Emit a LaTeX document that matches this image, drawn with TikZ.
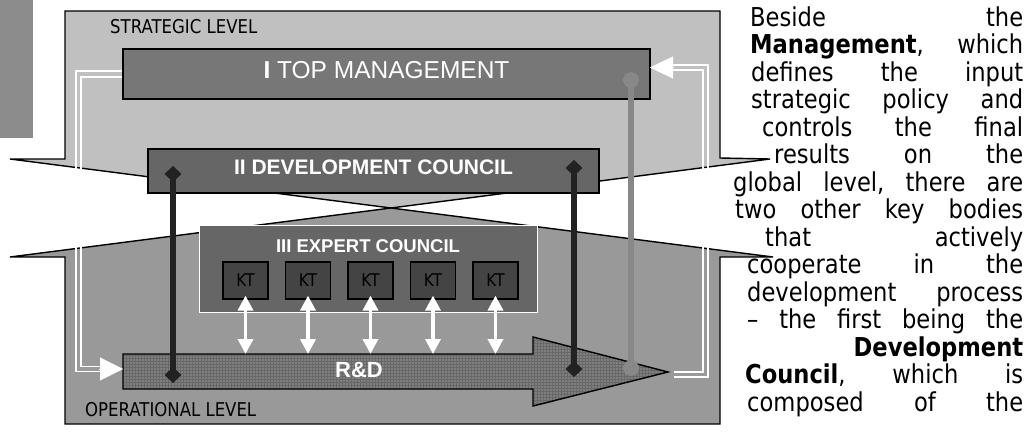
\documentclass[tikz,border=0pt]{standalone}
\usepackage{fontspec}
\setmainfont{DejaVu Sans}[FakeStretch=0.87]
\newfontfamily\diagfont{Liberation Sans}
\usetikzlibrary{calc,arrows.meta,patterns}

\definecolor{lvStrip}{HTML}{8C8C8C}
\definecolor{lvStrat}{HTML}{C0C0C0}
\definecolor{lvOper}{HTML}{999999}
\definecolor{lvTop}{HTML}{777777}
\definecolor{lvCouncil}{HTML}{666666}
\definecolor{lvTeam}{HTML}{444444}
\definecolor{lvRD}{HTML}{7F7F7F}
\definecolor{lvRDgrid}{HTML}{686868}
\definecolor{lvDark}{HTML}{222222}
\definecolor{lvLink}{HTML}{888888}

\begin{document}
\begin{tikzpicture}[x=1pt, y=-1pt,
    levelshape/.style={draw=black, line width=1.4pt},
    council/.style={draw=black, line width=1.2pt, fill=lvCouncil, text=white, inner sep=0pt},
    team/.style={draw=black, line width=1.2pt, fill=lvTeam, minimum width=45pt, minimum height=37pt,
      font=\fontsize{17.5}{17.5}\selectfont, inner sep=0pt},
    lvlabel/.style={anchor=base west, inner sep=0pt, font=\fontsize{19}{19}\selectfont},
    linkdown/.style={lvDark, line width=6pt, {Diamond[length=16pt,width=17pt]}-{Diamond[length=16pt,width=17pt]}},
    feedback/.style={white, line width=1.5pt},
    updown/.style={white, line width=3.5pt, {Triangle[length=15pt,width=15pt]}-{Triangle[length=15pt,width=15pt]}},
    paraline/.style={anchor=base west, inner sep=0pt, font=\fontsize{26}{26}\selectfont}
  ]
  \useasboundingbox (0,0) rectangle (1029,439);

  % Strip and the two levels
  \fill[lvStrip] (0,0) rectangle (33,138);
  \coordinate (cross) at (391,208);
  \draw[levelshape, fill=lvStrat] (10,159) -- (65,159) -- (65,11) -- (720,11) -- (720,158) -- (770,159) -- (cross) -- cycle;
  \draw[levelshape, fill=lvOper] (10,257) -- (65,257) -- (65,424) -- (720,424) -- (720,257) -- (773,257) -- (cross) -- cycle;
  \node[lvlabel] (strat) at (110,34) {STRATEGIC LEVEL};
  \node[lvlabel] (oper) at (85,416) {OPERATIONAL LEVEL};

  % Bodies
  \node[council, fill=lvTop, font=\diagfont\fontsize{24.5}{24.5}\selectfont,
    minimum width=527pt, minimum height=50pt, text depth=8pt] (tm) at (386.5,74) {\textbf{I} TOP MANAGEMENT};
  \node[council, font=\diagfont\bfseries\fontsize{21}{21}\selectfont,
    minimum width=451pt, minimum height=44pt, text depth=8pt] (dc) at (373.5,171) {II DEVELOPMENT COUNCIL};
  \node[council, draw=white, line width=1pt, minimum width=338pt, minimum height=87pt] (ec) at (368,268.5) {};
  \node[text=white, inner sep=0pt, font=\diagfont\bfseries\fontsize{18.5}{18.5}\selectfont] (ect) at (368,246) {III EXPERT COUNCIL};
  \foreach \i in {1,...,5}
    \node[team] (kt\i) at ({245.5+62.5*(\i-1)},280.5) {KT};

  % R&D arrow
  \draw[levelshape, preaction={fill=lvRD}, pattern=grid, pattern color=lvRDgrid]
    (123,354) -- (533,354) -- (533,337) -- (668,372) -- (533,406) -- (533,389) -- (123,389) -- cycle;
  \coordinate (rdw) at (123,369);
  \coordinate (rdtip) at (668,372);
  \coordinate (rdtop) at (123,354);
  \node[text=white, inner sep=0pt, font=\diagfont\bfseries\fontsize{22}{22}\selectfont] (rd) at (359,370) {R\&D};

  % Expert teams <-> R&D
  \foreach \i in {1,...,5}
    \draw[updown] ([yshift=4pt]kt\i.south) -- (kt\i.south |- rdtop);

  % Council links
  \coordinate (dcL) at (173,166);
  \coordinate (rdL) at (173,383);
  \coordinate (dcR) at (574,160);
  \coordinate (rdR) at (574,377);
  \draw[linkdown] (dcL) -- (rdL);
  \draw[linkdown] (dcR) -- (rdR);

  % Management link
  \coordinate (tmG) at (631,72);
  \coordinate (rdG) at (631,376);
  \draw[lvLink, line width=5.5pt, {Circle[length=16pt]}-{Circle[length=16pt]}] (tmG) -- (rdG);

  % Feedback loops
  \draw[feedback] ($(tm.west)+(0,-3)$) -| (76,371.5) -- (100,371.5);
  \draw[feedback] ($(tm.west)+(0,3)$) -| (81,366.5) -- (100,366.5);
  \draw[white, line width=0.1pt, -{Triangle[length=23pt,width=23pt]}] (99,369) -- (rdw);
  \coordinate (tmE) at (650,67.5);
  \draw[feedback] ($(rdtip)+(6,0)$) -| (703,70) -- (673,70);
  \draw[feedback] ($(rdtip)+(6,5)$) -| (708,65) -- (673,65);
  \draw[white, line width=0.1pt, -{Triangle[length=23pt,width=22pt]}] (674,67.5) -- (tmE);

  % Text beside the diagram
  \foreach \i/\lx/\txt in {
      1/750/{Beside\hfill the},
      2/750/{\textbf{Management},\hfill which},
      3/751/{defines\hfill the\hfill input},
      4/751/{strategic\hfill policy\hfill and},
      5/762/{controls\hfill the\hfill final},
      6/774/{results\hfill on\hfill the},
      7/733/{global\hfill level,\hfill there\hfill are},
      8/735/{two\hfill other\hfill key\hfill bodies},
      9/765/{that\hfill actively},
      10/747/{cooperate\hfill in\hfill the},
      11/747/{development\hfill process},
      12/747/{\textendash\hfill the\hfill first\hfill being\hfill the},
      13/747/{\hfill\textbf{Development}},
      14/745/{\textbf{Council},\hfill which\hfill is},
      15/747/{composed\hfill of\hfill the}}
    \node[paraline] (p\i) at (\lx,{26+27.5*(\i-1)}) {\hbox to \dimexpr 1023pt-\lx pt\relax{\txt}};
\end{tikzpicture}
\end{document}
